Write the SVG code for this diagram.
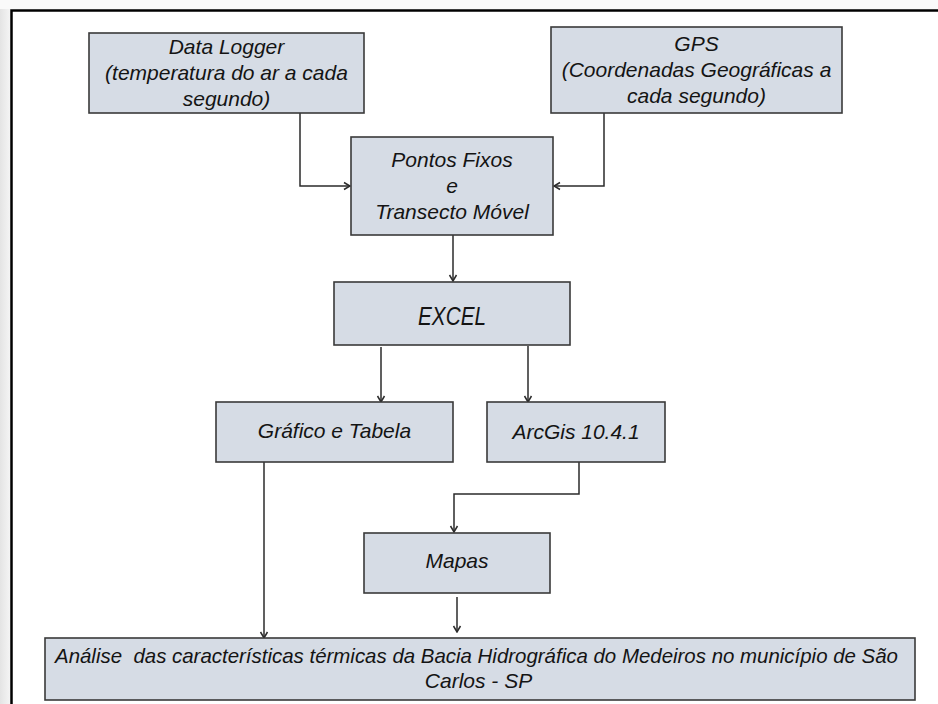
<svg xmlns="http://www.w3.org/2000/svg" width="938" height="704" viewBox="0 0 938 704">
  <style>
    .box { fill: #d6dce5; stroke: #3a3a3a; stroke-width: 1.6; }
    .t { font-family: "Liberation Sans", Arial, sans-serif; font-style: italic; font-size: 21px; fill: #141414; text-anchor: middle; }
    .conn { fill: none; stroke: #2b2b2b; stroke-width: 1.5; }
  </style>
  <defs>
    <marker id="arr" markerWidth="10" markerHeight="10" refX="9" refY="5" orient="auto" markerUnits="userSpaceOnUse">
      <path d="M3,1.5 L9,5 L3,8.5" fill="none" stroke="#2b2b2b" stroke-width="1.5"/>
    </marker>
    <linearGradient id="margin" x1="0" y1="0" x2="1" y2="0">
      <stop offset="0" stop-color="#e4e4e4"/>
      <stop offset="1" stop-color="#f6f6f6"/>
    </linearGradient>
  </defs>

  <rect x="0" y="0" width="938" height="704" fill="#ffffff"/>
  <rect x="0" y="0" width="11" height="704" fill="url(#margin)"/>
  <rect x="0" y="0" width="938" height="9" fill="#fafafa"/>
  <path d="M11.5,704 V10.5 H938" fill="none" stroke="#000" stroke-width="2.5"/>

  <g id="connectors">
    <path class="conn" d="M300,113 V186 H350" marker-end="url(#arr)"/>
    <path class="conn" d="M604,113 V186 H554" marker-end="url(#arr)"/>
    <path class="conn" d="M453,235 V281" marker-end="url(#arr)"/>
    <path class="conn" d="M381,347 V402" marker-end="url(#arr)"/>
    <path class="conn" d="M528,346 V402" marker-end="url(#arr)"/>
    <path class="conn" d="M264,462 V638" marker-end="url(#arr)"/>
    <path class="conn" d="M579,462 V494 H454 V532" marker-end="url(#arr)"/>
    <path class="conn" d="M457,597 V632" marker-end="url(#arr)"/>
  </g>

  <g id="datalogger">
    <rect class="box" x="89" y="33" width="275" height="80"/>
    <text class="t" x="226.5" y="54">Data Logger</text>
    <text class="t" x="226.5" y="80">(temperatura do ar a cada</text>
    <text class="t" x="226.5" y="106">segundo)</text>
  </g>

  <g id="gps">
    <rect class="box" x="551" y="27" width="291" height="86"/>
    <text class="t" x="696.5" y="51">GPS</text>
    <text class="t" x="696.5" y="77">(Coordenadas Geográficas a</text>
    <text class="t" x="696.5" y="103">cada segundo)</text>
  </g>

  <g id="pontos">
    <rect class="box" x="351" y="137" width="202" height="98"/>
    <text class="t" x="452" y="167">Pontos Fixos</text>
    <text class="t" x="452" y="193">e</text>
    <text class="t" x="452" y="219">Transecto Móvel</text>
  </g>

  <g id="excel">
    <rect class="box" x="334" y="282" width="236" height="63"/>
    <text class="t" x="452" y="325" style="font-size:25px" textLength="68" lengthAdjust="spacingAndGlyphs">EXCEL</text>
  </g>

  <g id="grafico">
    <rect class="box" x="216" y="402" width="237" height="60"/>
    <text class="t" x="334.5" y="438">Gráfico e Tabela</text>
  </g>

  <g id="arcgis">
    <rect class="box" x="487" y="402" width="178" height="60"/>
    <text class="t" x="576" y="439">ArcGis 10.4.1</text>
  </g>

  <g id="mapas">
    <rect class="box" x="364" y="533" width="186" height="60"/>
    <text class="t" x="457" y="568">Mapas</text>
  </g>

  <g id="analise">
    <rect class="box" x="45" y="638" width="870" height="62"/>
    <text class="t" x="55" y="663" style="text-anchor:start" xml:space="preserve" textLength="843" lengthAdjust="spacingAndGlyphs">Análise  das características térmicas da Bacia Hidrográfica do Medeiros no município de São</text>
    <text class="t" x="478.5" y="688">Carlos - SP</text>
  </g>
</svg>
